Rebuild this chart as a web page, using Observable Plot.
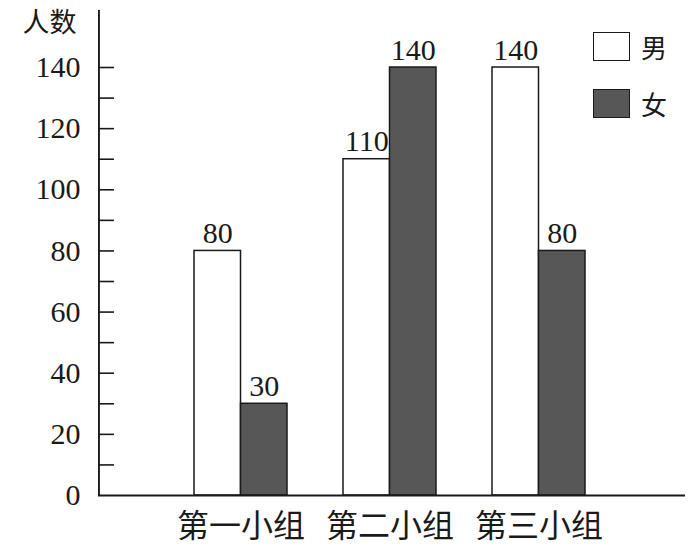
<!DOCTYPE html>
<html>
<head>
<meta charset="utf-8">
<script src="https://cdn.jsdelivr.net/npm/d3@7"></script>
<script src="https://cdn.jsdelivr.net/npm/@observablehq/plot@0.6"></script>
<style>
  html, body { margin: 0; padding: 0; background: #fff; }
  #wrap { position: relative; width: 696px; height: 555px; }
  .cjk { font-family: "Noto Sans CJK SC", sans-serif; color: #1a1a1a; position: absolute; white-space: nowrap; }
  .lg { position: absolute; width: 35px; height: 27px; border: 1.6px solid #1a1a1a; }
</style>
</head>
<body>
<div id="wrap"></div>
<script>
// ---- data ----
const groups = ["第一小组", "第二小组", "第三小组"];
const boys = [80, 110, 140];
const girls = [30, 140, 80];
const seriesNames = ["男", "女"];
const yTicksMajor = [0, 20, 40, 60, 80, 100, 120, 140];
const yTicksMinor = [10, 20, 30, 40, 50, 60, 70, 80, 90, 100, 110, 120, 130, 140];
const yLabel = "人数";

const boyRows = groups.map((g, i) => ({group: g, value: boys[i]}));
const girlRows = groups.map((g, i) => ({group: g, value: girls[i]}));

const W = 696, H = 555, mL = 98, mR = 11, mT = 10, mB = 60;
const plotW = W - mL - mR;
const yMax = 158.65;
const half = 46.5;
const ink = "#1a1a1a";
const dark = "#575757";
const numFont = "'Liberation Serif', 'Times New Roman', serif";
const cjkFont = "'Noto Sans CJK SC', sans-serif";

const chart = Plot.plot({
  width: W,
  height: H,
  marginLeft: mL,
  marginRight: mR,
  marginTop: mT,
  marginBottom: mB,
  style: {background: "white", color: ink, overflow: "visible"},
  x: {domain: groups, paddingInner: 0.378, paddingOuter: 0.652, align: 0.49, label: null},
  y: {domain: [0, yMax], label: null},
  marks: [
    Plot.barY(boyRows, {x: "group", y: "value", fill: "white", stroke: ink, strokeWidth: 1.5, insetRight: half}),
    Plot.barY(girlRows, {x: "group", y: "value", fill: dark, stroke: ink, strokeWidth: 1.5, insetLeft: half}),
    Plot.text(boyRows, {x: "group", y: "value", text: d => String(d.value), dx: -half / 2, dy: -8, lineAnchor: "bottom", fontSize: 30, fontFamily: numFont, fill: ink}),
    Plot.text(girlRows, {x: "group", y: "value", text: d => String(d.value), dx: half / 2, dy: -8, lineAnchor: "bottom", fontSize: 30, fontFamily: numFont, fill: ink}),
    Plot.tickY(yTicksMinor, {y: d => d, stroke: ink, strokeWidth: 1.6, insetRight: plotW - 16}),
    // vertical y-axis line spanning the full y domain at the left edge of the frame
    Plot.rect([yMax], {y1: 0, y2: d => d, fill: ink, insetRight: plotW - 1.9}),
    Plot.axisY(yTicksMajor, {tickSize: 0, tickPadding: 18, fontSize: 30, fontFamily: numFont, label: null}),
    Plot.axisX({tickSize: 0, tickPadding: 19, fontSize: 32, fontFamily: cjkFont, label: null}),
    Plot.ruleY([0], {stroke: ink, strokeWidth: 1.8}),
    // y-axis title, anchored to the top-left corner of the frame
    Plot.text([yLabel], {frameAnchor: "top-left", text: d => d, textAnchor: "start", lineAnchor: "middle", dx: -76, dy: 13, fontSize: 27, fontFamily: cjkFont, fill: ink})
  ]
});

const wrap = document.getElementById("wrap");
wrap.appendChild(chart);

// legend
const fills = ["white", dark];
const tops = [32, 89];
seriesNames.forEach((name, i) => {
  const box = document.createElement("div");
  box.className = "lg";
  box.style.left = "593px";
  box.style.top = tops[i] + "px";
  box.style.background = fills[i];
  wrap.appendChild(box);
  const t = document.createElement("div");
  t.className = "cjk";
  t.textContent = name;
  t.style.cssText += `left:641px;top:${tops[i] - 2}px;font-size:26px;line-height:34px;`;
  wrap.appendChild(t);
});
</script>
</body>
</html>
